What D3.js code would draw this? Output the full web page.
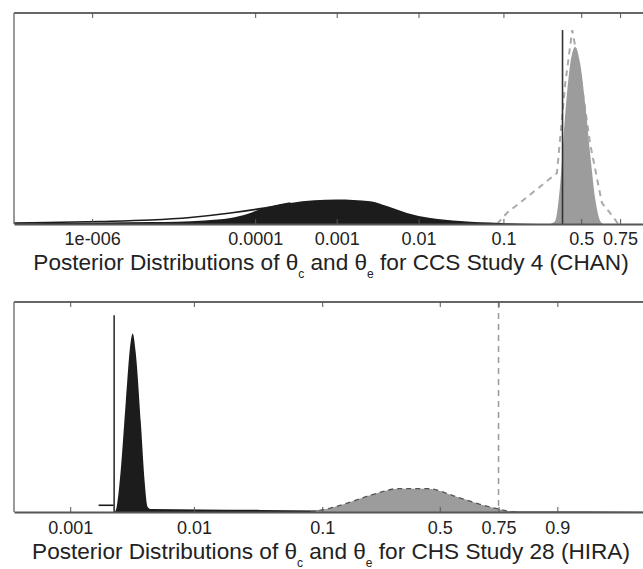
<!DOCTYPE html>
<html lang="en">
<head>
<meta charset="UTF-8">
<title>Posterior Distributions</title>
<script src="https://d3js.org/d3.v7.min.js"></script>
<style>
    body { margin: 0; background: #fff; font-family: "Liberation Sans", Arial, sans-serif; }
    svg { display: block; }
</style>
</head>
<body>
<div id="chart"></div>
<script>
// ---- CHAN (CCS Study 4) ----
const chanTicks = [1e-6, 1e-4, 1e-3, 0.01, 0.1, 0.5, 0.75];
const chanTickLabels = ["1e-006", "0.0001", "0.001", "0.01", "0.1", "0.5", "0.75"];
// theta_c posterior (filled black)
const chanThetaC = [
    [1.1e-7, 0.03], [2.83e-7, 0.05], [1.26e-6, 0.07], [5.19e-6, 0.09], [2.38e-5, 0.17],
    [4.97e-5, 0.28], [8.02e-5, 0.47], [1.16e-4, 0.71], [2.7e-4, 1.0], [5.32e-4, 1.12],
    [1e-3, 1.16], [2.58e-3, 1.08], [4.12e-3, 0.85], [7.22e-3, 0.52], [0.0139, 0.28],
    [0.0318, 0.14], [0.0922, 0.05], [0.239, 0]
];
// theta_c density line (black)
const chanThetaCLine = [
    [1.1e-7, 0.05], [2.83e-7, 0.07], [1.26e-6, 0.12], [5.19e-6, 0.19], [1.6e-5, 0.31],
    [4.97e-5, 0.52], [1.16e-4, 0.73], [2.7e-4, 1.0]
];
// theta_e posterior (filled grey)
const chanThetaE = [
    [0.294, 0], [0.324, 0.14], [0.356, 1.9], [0.389, 5.21], [0.423, 7.58], [0.458, 8.39],
    [0.493, 7.58], [0.528, 5.69], [0.563, 3.32], [0.598, 1.18], [0.631, 0.14], [0.65, 0]
];
// theta_e dashed curve
const chanThetaEDashed = [
    [0.085, 0], [0.109, 0.52], [0.192, 1.4], [0.335, 2.42], [0.389, 6.64], [0.437, 9.19],
    [0.493, 7.11], [0.563, 3.79], [0.642, 1.0], [0.712, 0.33], [0.74, 0]
];
const chanMarker = [0.371, 9.19];

// ---- HIRA (CHS Study 28) ----
const hiraTicks = [0.001, 0.01, 0.1, 0.5, 0.75, 0.9];
const hiraTickLabels = ["0.001", "0.01", "0.1", "0.5", "0.75", "0.9"];
const hiraThetaC = [
    [2.3e-3, 0], [2.38e-3, 0.24], [2.56e-3, 1.9], [2.82e-3, 5.24], [3.09e-3, 8.1], [3.21e-3, 8.5],
    [3.39e-3, 7.62], [3.73e-3, 4.29], [4.01e-3, 1.43], [4.24e-3, 0.24], [4.49e-3, 0.14],
    [0.0113, 0.12], [0.034, 0.1], [0.097, 0.07], [0.324, 0.05], [0.844, 0.02], [0.98, 0.015]
];
const hiraThetaCLine = [[1.7e-3, 0.32], [2.25e-3, 0.32]];
const hiraThetaE = [
    [0.082, 0], [0.115, 0.19], [0.159, 0.48], [0.238, 0.9], [0.312, 1.11], [0.443, 1.11],
    [0.582, 0.71], [0.693, 0.32], [0.757, 0.12], [0.789, 0.02], [0.819, 0]
];
const hiraMarker = [2.27e-3, 9.37];
const hiraCutoff = 0.75;

const panels = [
    { top: 13, bottom: 224, right: 659, domain: [1.1e-7, 0.9], ticks: chanTicks, labels: chanTickLabels,
      title: "CCS Study 4 (CHAN)", fillC: chanThetaC, lineC: chanThetaCLine, fillE: chanThetaE,
      dashE: chanThetaEDashed, marker: chanMarker, cutoff: null, tickPad: 8, titleOff: 46 },
    { top: 302, bottom: 512, right: 648, domain: [3.5e-4, 0.98], ticks: hiraTicks, labels: hiraTickLabels,
      title: "CHS Study 28 (HIRA)", fillC: hiraThetaC, lineC: hiraThetaCLine, fillE: hiraThetaE,
      dashE: hiraThetaE, marker: hiraMarker, cutoff: hiraCutoff, tickPad: 9, titleOff: 47 }
];

const width = 643, height = 569;
const left = 14;
const logit = p => Math.log10(p / (1 - p));

const svg = d3.select("#chart").append("svg")
    .attr("width", width).attr("height", height);

panels.forEach((pn, k) => {
    const xl = d3.scaleLinear().domain(pn.domain.map(logit)).range([left, pn.right]);
    const x = p => xl(logit(p));
    const y = d3.scaleLinear().domain([0, 10]).range([pn.bottom, pn.top]);

    const g = svg.append("g");
    const clipId = "clip" + k;
    svg.append("defs").append("clipPath").attr("id", clipId)
        .append("rect").attr("x", left).attr("y", pn.top)
        .attr("width", pn.right - left).attr("height", pn.bottom - pn.top);
    const plot = g.append("g").attr("clip-path", `url(#${clipId})`);

    const area = d3.area().x(d => x(d[0])).y0(y(0)).y1(d => y(d[1])).curve(d3.curveMonotoneX);
    const line = d3.line().x(d => x(d[0])).y(d => y(d[1])).curve(d3.curveMonotoneX);
    const straight = d3.line().x(d => x(d[0])).y(d => y(d[1]));

    // dashed theta_e curve drawn behind the fills in the top panel
    if (k === 0) {
        plot.append("path").attr("d", straight(pn.dashE))
            .attr("fill", "none").attr("stroke", "#aaa")
            .attr("stroke-width", 2).attr("stroke-dasharray", "6,5");
    }

    plot.append("path").attr("d", line(pn.lineC))
        .attr("fill", "none").attr("stroke", "#1c1c1c").attr("stroke-width", 1.6);
    plot.append("path").attr("d", area(pn.fillC)).attr("fill", "#1c1c1c");
    plot.append("path").attr("d", area(pn.fillE)).attr("fill", "#9c9c9c");

    if (k === 1) {
        plot.append("path").attr("d", line(pn.dashE))
            .attr("fill", "none").attr("stroke", "#555")
            .attr("stroke-width", 1.3).attr("stroke-dasharray", "5,4");
    }

    // vertical marker line
    plot.append("line")
        .attr("x1", x(pn.marker[0])).attr("x2", x(pn.marker[0]))
        .attr("y1", y(0)).attr("y2", y(pn.marker[1]))
        .attr("stroke", "#333").attr("stroke-width", 1.6);

    if (pn.cutoff !== null) {
        plot.append("line")
            .attr("x1", x(pn.cutoff)).attr("x2", x(pn.cutoff))
            .attr("y1", pn.top).attr("y2", pn.bottom)
            .attr("stroke", "#999").attr("stroke-width", 1.5).attr("stroke-dasharray", "6,5");
    }

    // frame
    g.append("line").attr("x1", left).attr("x2", pn.right).attr("y1", pn.top).attr("y2", pn.top)
        .attr("stroke", "#666").attr("stroke-width", 2);
    g.append("line").attr("x1", left).attr("x2", left).attr("y1", pn.top).attr("y2", pn.bottom)
        .attr("stroke", "#777").attr("stroke-width", 1.5);

    // axes
    const tickVals = pn.ticks.map(logit);
    const bottomAxis = d3.axisBottom(xl).tickValues(tickVals)
        .tickSizeInner(-5).tickSizeOuter(0).tickPadding(pn.tickPad)
        .tickFormat((d, i) => pn.labels[i]);
    const ax = g.append("g").attr("transform", `translate(0,${pn.bottom})`).call(bottomAxis);
    ax.select(".domain").attr("stroke", "#555").attr("stroke-width", 2);
    ax.selectAll(".tick line").attr("stroke", "#555");
    ax.selectAll(".tick text").attr("fill", "#222")
        .style("font-family", "'Liberation Sans', Arial, sans-serif").style("font-size", "18px");

    const topAxis = d3.axisTop(xl).tickValues(tickVals)
        .tickSizeInner(-5).tickSizeOuter(0).tickFormat("");
    const tx = g.append("g").attr("transform", `translate(0,${pn.top})`).call(topAxis);
    tx.select(".domain").remove();
    tx.selectAll(".tick line").attr("stroke", "#555");

    // title
    const t = g.append("text")
        .attr("x", 331).attr("y", pn.bottom + pn.titleOff)
        .attr("text-anchor", "middle")
        .attr("fill", "#222")
        .style("font-size", "22.6px");
    t.append("tspan").text("Posterior Distributions of \u03b8");
    t.append("tspan").attr("dy", 8).style("font-size", "12px").text("c");
    t.append("tspan").attr("dy", -8).text(" and \u03b8");
    t.append("tspan").attr("dy", 8).style("font-size", "12px").text("e");
    t.append("tspan").attr("dy", -8).text(" for " + pn.title);
});
</script>
</body>
</html>
